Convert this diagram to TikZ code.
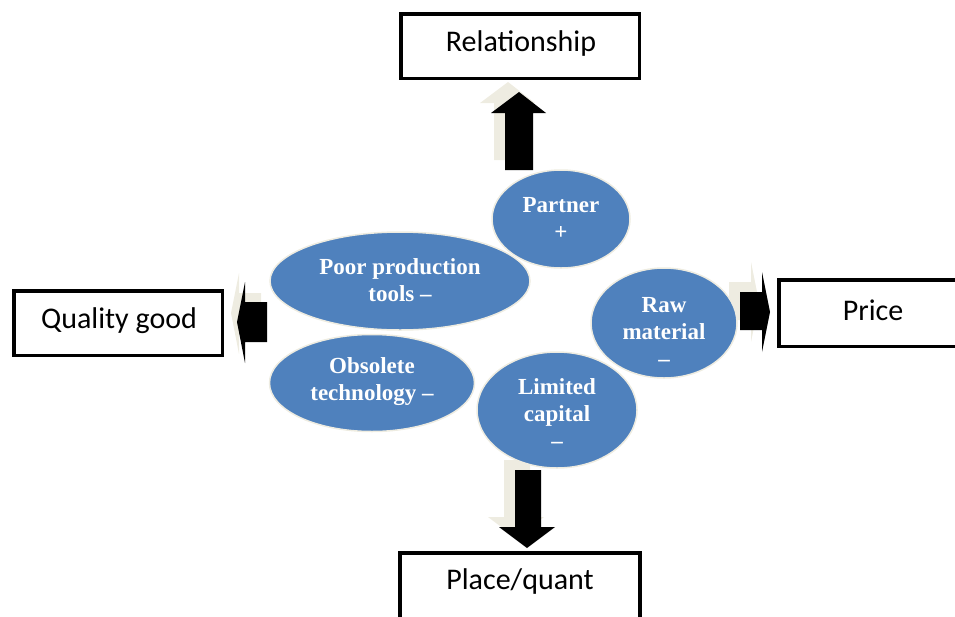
\documentclass[tikz,border=0pt]{standalone}
\usepackage{fontspec}
\setmainfont{Liberation Serif}
\newfontfamily\boxfont{Carlito}
\usetikzlibrary{shapes.geometric}
\definecolor{ellblue}{HTML}{4F81BD}
\definecolor{shadowbeige}{HTML}{EEECE1}
\tikzset{
  box/.style={draw=black, line width=3.5pt, fill=white, inner sep=0pt,
    font=\boxfont\fontsize{30}{36}\selectfont},
  boxtext/.style={inner sep=0pt, font=\boxfont\fontsize{30}{36}\selectfont},
  bubble/.style={ellipse, draw=shadowbeige, line width=1.5pt, fill=ellblue, inner sep=0pt},
  btext/.style={text=white, align=center, inner sep=0pt,
    font=\bfseries\fontsize{23}{27}\selectfont},
  blockarrow/.style={fill=black},
  blockshadow/.style={fill=shadowbeige}
}
\begin{document}
\begin{tikzpicture}[x=1pt,y=-1pt]
\useasboundingbox (0,0) rectangle (955,616);

% boxes
\node[box, minimum width=238.5pt, minimum height=64.5pt] (rel) at (520,46) {};
\node[boxtext] (relt) at (521,44) {Relationship};
\node[box, minimum width=208.5pt, minimum height=64.5pt] (qual) at (118,323) {};
\node[boxtext] (qualt) at (119,321) {Quality good};
\node[box, minimum width=200pt, minimum height=66.5pt] (price) at (878.75,313) {};
\node[boxtext] (pricet) at (873,310) {Price};
\node[box, minimum width=240pt, minimum height=80pt] (place) at (519.75,592.75) {};
\node[boxtext] (placet) at (520,581) {Place/quant};

% shadows of block arrows
\begin{scope}[shift={(-11,-10)}]
  \fill[blockshadow] (505,170) -- (505,113) -- (491,113) -- (519,92) -- (546,113) -- (533,113) -- (533,170) -- cycle;
  \fill[blockshadow] (515,470) -- (515,527) -- (499,527) -- (527,548) -- (555,527) -- (541,527) -- (541,470) -- cycle;
\end{scope}
\begin{scope}[shift={(-6,-9)}]
  \fill[blockshadow] (267,302) -- (245,302) -- (245,282) -- (237,322) -- (245,363) -- (245,342) -- (267,342) -- cycle;
\end{scope}
\begin{scope}[shift={(-11,-10)}]
  \fill[blockshadow] (740,292) -- (762,292) -- (762,272) -- (770,312) -- (762,352) -- (762,330) -- (740,330) -- cycle;
\end{scope}

% block arrows
\fill[blockarrow] (505,170) -- (505,113) -- (491,113) -- (519,92) -- (546,113) -- (533,113) -- (533,170) -- cycle;
\fill[blockarrow] (515,470) -- (515,527) -- (499,527) -- (527,548) -- (555,527) -- (541,527) -- (541,470) -- cycle;
\fill[blockarrow] (267,302) -- (245,302) -- (245,282) -- (237,322) -- (245,363) -- (245,342) -- (267,342) -- cycle;
\fill[blockarrow] (740,292) -- (762,292) -- (762,272) -- (770,312) -- (762,352) -- (762,330) -- (740,330) -- cycle;

% bubbles
\node[bubble, minimum width=138pt, minimum height=98pt] (partner) at (561,219) {};
\node[bubble, minimum width=146pt, minimum height=110pt] (raw) at (664,323) {};
\node[bubble, minimum width=160pt, minimum height=116pt] (capital) at (557,410) {};
\node[bubble, minimum width=260pt, minimum height=98pt] (poor) at (400,281) {};
\node[bubble, minimum width=205pt, minimum height=97pt] (obs) at (372,383) {};

\node[btext] (partnert) at (561,218) {Partner\\+};
\node[btext] (rawt) at (664,332) {Raw\\material\\–};
\node[btext] (capitalt) at (557,414) {Limited\\capital\\–};
\node[btext] (poort) at (400,280) {Poor production\\tools –};
\node[btext] (obst) at (372,382) {Obsolete\\technology –};
\end{tikzpicture}
\end{document}
